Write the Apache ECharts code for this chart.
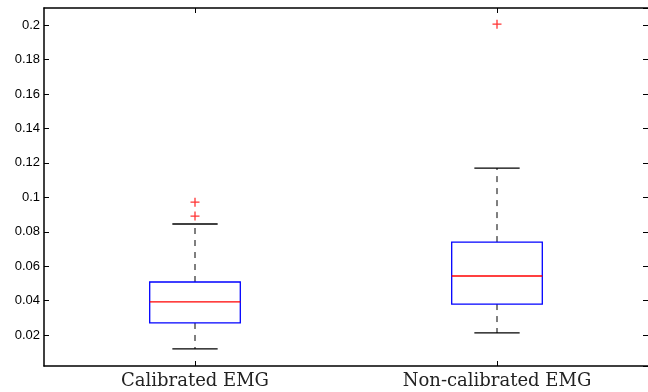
<!DOCTYPE html>
<html>
<head>
<meta charset="utf-8">
<script src="https://cdn.jsdelivr.net/npm/echarts@6/dist/echarts.min.js"></script>
<style>
  html, body { margin: 0; padding: 0; background: #fff; }
  #main { width: 648px; height: 392px; }
</style>
</head>
<body>
<div id="main"></div>
<script>
// box plot data
var categories = ['Calibrated EMG', 'Non-calibrated EMG'];
var lowerWhisker = [0.0119, 0.0212];
var q1 = [0.0270, 0.0380];
var median = [0.0392, 0.0543];
var q3 = [0.0508, 0.0740];
var upperWhisker = [0.0845, 0.1170];
var outlierCat = [0, 0, 1];
var outlierVal = [0.0891, 0.0972, 0.2006];

var boxData = categories.map(function (c, i) {
    return [i, lowerWhisker[i], q1[i], median[i], q3[i], upperWhisker[i]];
});
var outlierData = outlierVal.map(function (v, i) {
    return [outlierCat[i], v];
});

var myChart = echarts.init(document.getElementById('main'));

var lineBlack = { color: '#000', width: 1.5 };
var tickIn = { show: true, inside: true, length: 5, lineStyle: { color: '#000', width: 1 } };

myChart.setOption({
    animation: false,
    grid: { left: 44, right: 0, top: 8, bottom: 26, containLabel: false },
    xAxis: [{
        type: 'category',
        data: categories,
        position: 'bottom',
        axisLine: { lineStyle: lineBlack },
        axisTick: { show: true, inside: true, length: 5, alignWithLabel: true, lineStyle: { color: '#000', width: 1 } },
        axisLabel: { fontFamily: 'DejaVu Serif', fontSize: 18, color: '#222', margin: 6 }
    }, {
        type: 'category',
        data: categories,
        position: 'top',
        axisLine: { lineStyle: lineBlack },
        axisTick: { show: true, inside: true, length: 5, alignWithLabel: true, lineStyle: { color: '#000', width: 1 } },
        axisLabel: { show: false }
    }],
    yAxis: [{
        type: 'value',
        min: 0.002,
        max: 0.21,
        splitNumber: 10,
        position: 'left',
        splitLine: { show: false },
        axisLine: { show: true, lineStyle: lineBlack },
        axisTick: tickIn,
        axisLabel: {
            showMinLabel: false, showMaxLabel: false,
            fontFamily: 'Liberation Sans', fontSize: 13, color: '#000', margin: 4
        }
    }, {
        type: 'value',
        min: 0.002,
        max: 0.21,
        splitNumber: 10,
        position: 'right',
        splitLine: { show: false },
        axisLine: { show: false },
        axisTick: tickIn,
        axisLabel: { show: false }
    }],
    series: [{
        type: 'custom',
        data: boxData,
        encode: { x: 0, y: [1, 2, 3, 4, 5] },
        renderItem: function (params, api) {
            var i = api.value(0);
            var x = api.coord([i, 0])[0];
            var band = api.size([1, 0])[0];
            var bw = band * 0.3, cw = band * 0.15;
            var yLo = api.coord([i, api.value(1)])[1];
            var yQ1 = api.coord([i, api.value(2)])[1];
            var yMed = api.coord([i, api.value(3)])[1];
            var yQ3 = api.coord([i, api.value(4)])[1];
            var yHi = api.coord([i, api.value(5)])[1];
            var dash = { stroke: '#000', lineWidth: 1, lineDash: [6, 6] };
            var solid = { stroke: '#000', lineWidth: 1.3 };
            return {
                type: 'group',
                children: [
                    { type: 'line', shape: { x1: x, y1: yQ3, x2: x, y2: yHi }, style: dash },
                    { type: 'line', shape: { x1: x, y1: yQ1, x2: x, y2: yLo }, style: dash },
                    { type: 'line', shape: { x1: x - cw / 2, y1: yHi, x2: x + cw / 2, y2: yHi }, style: solid },
                    { type: 'line', shape: { x1: x - cw / 2, y1: yLo, x2: x + cw / 2, y2: yLo }, style: solid },
                    { type: 'rect', shape: { x: x - bw / 2, y: yQ3, width: bw, height: yQ1 - yQ3 },
                      style: { fill: '#fff', stroke: '#00f', lineWidth: 1.3 } },
                    { type: 'line', shape: { x1: x - bw / 2, y1: yMed, x2: x + bw / 2, y2: yMed },
                      style: { stroke: '#f00', lineWidth: 1.3 } }
                ]
            };
        }
    }, {
        type: 'scatter',
        data: outlierData,
        symbol: 'path://M0,5L10,5M5,0L5,10',
        symbolSize: 9,
        itemStyle: { color: 'rgba(0,0,0,0)', borderColor: '#f00', borderWidth: 1.3 }
    }]
});
</script>
</body>
</html>
